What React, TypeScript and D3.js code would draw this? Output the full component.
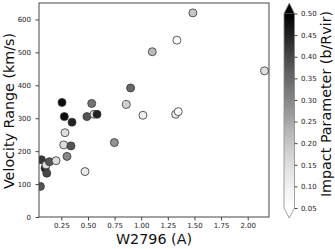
import {useEffect, useRef} from 'react';
import * as d3             from 'd3';

// W2796 (A), velocity range (km/s), impact parameter (b/Rvir)
const widths = [0.053, 0.063, 0.097, 0.106, 0.113, 0.138, 0.2, 0.256, 0.272, 0.278, 0.284, 0.303, 0.34, 0.35, 0.472, 0.49, 0.535, 0.556, 0.585, 0.748, 0.86, 0.9, 1.016, 1.104, 1.323, 1.335, 1.348, 1.485, 2.158]
	, velocities = [93, 174, 148, 158, 133, 168, 171, 348, 219, 305, 256, 184, 216, 288, 138, 305, 345, 312, 312, 226, 342, 392, 309, 502, 312, 537, 320, 620, 444]
	, impacts = [0.38, 0.42, 0.45, 0.15, 0.4, 0.38, 0.15, 0.48, 0.15, 0.48, 0.15, 0.3, 0.38, 0.45, 0.12, 0.38, 0.33, 0.15, 0.45, 0.28, 0.18, 0.35, 0.1, 0.22, 0.12, 0.05, 0.07, 0.2, 0.15]
	, xTicks = [0.25, 0.5, 0.75, 1.0, 1.25, 1.5, 1.75, 2.0]
	, yTicks = [0, 100, 200, 300, 400, 500, 600]
	, cTicks = [0.05, 0.1, 0.15, 0.2, 0.25, 0.3, 0.35, 0.4, 0.45, 0.5]
	;

function App(){
	const svgRef = useRef<SVGSVGElement>(null);

	useEffect(()=>{
		let svg = d3.select( svgRef.current )
			, left = 39
			, right = 269
			, top = 3
			, bottom = 217
			, x = d3.scaleLinear().domain([0.04, 2.2]).range([left, right])
			, y = d3.scaleLinear().domain([0, 650]).range([bottom, top])
			, color = d3.scaleSequential( d3.interpolateGreys ).domain([0.05, 0.5]).clamp(true)
			, cbLeft = 284
			, cbRight = 294.5
			, cbTop = 13.5
			, cbBottom = 208
			, c = d3.scaleLinear().domain([0.05, 0.5]).range([cbBottom, cbTop])
			, font = 'DejaVu Sans, sans-serif'
			, axisColor = '#444'
			, labelSize = 14.3
			, tickSize = 7
			;

		svg.selectAll('*').remove();

		// 点
		const g = svg.append('g');
		g.append('clipPath').attr('id', 'plotClip').append('rect')
			.attr('x', left).attr('y', top).attr('width', right - left).attr('height', bottom - top);
		g.append('g').attr('clip-path', 'url(#plotClip)').selectAll('circle').data( widths ).enter().append('circle')
			.attr('cx', (d)=>x(d))
			.attr('cy', (d, i)=>y(velocities[i]))
			.attr('r', 4)
			.attr('fill', (d, i)=>color(impacts[i]))
			.attr('stroke', '#333')
			.attr('stroke-width', 0.8);

		// 坐标轴
		svg.append('rect').attr('x', left).attr('y', top).attr('width', right - left).attr('height', bottom - top)
			.attr('fill', 'none').attr('stroke', axisColor).attr('stroke-width', 1);

		const xAxis = svg.append('g').attr('transform', `translate(0,${bottom})`)
			.call( d3.axisBottom(x).tickValues(xTicks).tickFormat(d3.format('.2f')).tickSize(3.5).tickPadding(2.5) );
		const yAxis = svg.append('g').attr('transform', `translate(${left},0)`)
			.call( d3.axisLeft(y).tickValues(yTicks).tickFormat(d3.format('d')).tickSize(3.5).tickPadding(4.5) );

		[xAxis, yAxis].forEach((a)=>{
			a.select('.domain').remove();
			a.selectAll('line').attr('stroke', axisColor);
			a.selectAll('text').attr('font-family', font).attr('font-size', tickSize).attr('fill', '#222');
		});

		svg.append('text').attr('x', (left + right) /2).attr('y', 244)
			.attr('text-anchor', 'middle').attr('font-family', font).attr('font-size', labelSize).attr('fill', '#111')
			.text('W2796 (A)');
		svg.append('text').attr('transform', `translate(13.5,111) rotate(-90)`)
			.attr('text-anchor', 'middle').attr('font-family', font).attr('font-size', labelSize).attr('fill', '#111')
			.text('Velocity Range (km/s)');

		// 色标
		const grad = svg.append('defs').append('linearGradient').attr('id', 'cbGrad')
			.attr('x1', 0).attr('y1', 1).attr('x2', 0).attr('y2', 0);
		d3.range(0, 1.001, 0.1).forEach((t)=>{
			grad.append('stop').attr('offset', t).attr('stop-color', d3.interpolateGreys(t));
		});

		const mid = (cbLeft + cbRight) /2;
		svg.append('rect').attr('x', cbLeft).attr('y', cbTop).attr('width', cbRight - cbLeft).attr('height', cbBottom - cbTop)
			.attr('fill', 'url(#cbGrad)');
		svg.append('path').attr('d', `M${cbLeft},${cbTop}L${mid},3L${cbRight},${cbTop}Z`).attr('fill', '#000');
		svg.append('path').attr('d', `M${cbLeft},${cbBottom}L${mid},218L${cbRight},${cbBottom}Z`).attr('fill', '#fff');
		svg.append('path')
			.attr('d', `M${cbLeft},${cbTop}L${mid},3L${cbRight},${cbTop}L${cbRight},${cbBottom}L${mid},218L${cbLeft},${cbBottom}Z`)
			.attr('fill', 'none').attr('stroke', '#888').attr('stroke-width', 0.8);

		const cAxis = svg.append('g').attr('transform', `translate(${cbRight},0)`)
			.call( d3.axisRight(c).tickValues(cTicks).tickFormat(d3.format('.2f')).tickSize(3).tickPadding(3.5) );
		cAxis.select('.domain').remove();
		cAxis.selectAll('line').attr('stroke', axisColor);
		cAxis.selectAll('text').attr('font-family', font).attr('font-size', tickSize).attr('fill', '#222');

		svg.append('text').attr('transform', `translate(330.5,104) rotate(-90)`)
			.attr('text-anchor', 'middle').attr('font-family', font).attr('font-size', labelSize).attr('fill', '#111')
			.text('Impact Parameter (b/Rvir)');
	});

	return (<svg ref={svgRef}
	             width={335}
	             height={249}
	             style={{position: 'absolute', left: 0, top: 0, background: '#fff'}}></svg>);
}

export default App;
